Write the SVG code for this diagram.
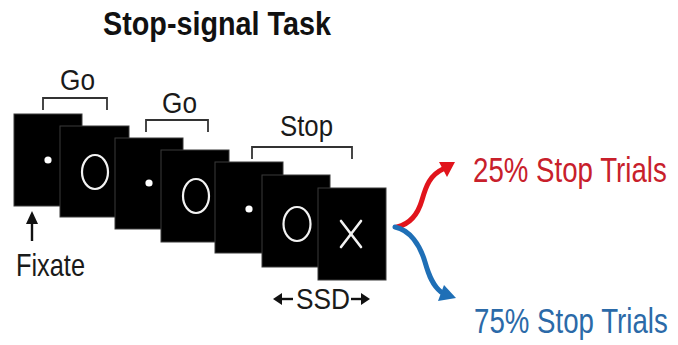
<svg xmlns="http://www.w3.org/2000/svg" width="678" height="345" viewBox="0 0 678 345">
  <style>
    text { font-family: "Liberation Sans Narrow", "Liberation Sans", Arial, sans-serif; }
    .lbl { font-size: 29px; fill: #1a1a1a; }
    .title { font-size: 34px; font-weight: bold; fill: #111; }
    .screen { fill: #000; stroke: #3a3a3a; stroke-width: 1; }
    .dot { fill: #fff; }
    .ring { fill: none; stroke: #f2f2f2; stroke-width: 2.2; }
    .cross { stroke: #f2f2f2; stroke-width: 2.6; stroke-linecap: round; }
    .bracket { fill: none; stroke: #333; stroke-width: 1.8; }
    .red { fill: #c8202b; font-size: 36px; }
    .blue { fill: #2b6aa8; font-size: 36px; }
  </style>
  <rect width="678" height="345" fill="#fff"/>

  <text class="title" x="103" y="35" textLength="228" lengthAdjust="spacingAndGlyphs">Stop-signal Task</text>

  <!-- trial phase brackets -->
  <g id="go1">
    <text class="lbl" x="60" y="90" textLength="35" lengthAdjust="spacingAndGlyphs">Go</text>
    <path class="bracket" d="M43,110 V98 H107 V110"/>
  </g>
  <g id="go2">
    <text class="lbl" x="162" y="113" textLength="35" lengthAdjust="spacingAndGlyphs">Go</text>
    <path class="bracket" d="M146,132 V120 H208 V132"/>
  </g>
  <g id="stop">
    <text class="lbl" x="280" y="136" textLength="53" lengthAdjust="spacingAndGlyphs">Stop</text>
    <path class="bracket" d="M252,159 V147 H352 V159"/>
  </g>

  <!-- stimulus screens, later ones drawn on top -->
  <g id="screen1">
    <rect class="screen" x="14" y="114" width="68" height="92"/>
    <circle class="dot" cx="48" cy="160" r="3.6"/>
  </g>
  <g id="screen2">
    <rect class="screen" x="60" y="126" width="69" height="91"/>
    <ellipse class="ring" cx="95" cy="172" rx="13" ry="17"/>
  </g>
  <g id="screen3">
    <rect class="screen" x="115" y="138" width="68" height="91"/>
    <circle class="dot" cx="149" cy="183" r="3.6"/>
  </g>
  <g id="screen4">
    <rect class="screen" x="161" y="150" width="68" height="92"/>
    <ellipse class="ring" cx="196" cy="196" rx="13" ry="17"/>
  </g>
  <g id="screen5">
    <rect class="screen" x="215" y="162" width="68" height="91"/>
    <circle class="dot" cx="249" cy="209" r="3.6"/>
  </g>
  <g id="screen6">
    <rect class="screen" x="262" y="175" width="68" height="92"/>
    <ellipse class="ring" cx="297" cy="224" rx="13.5" ry="17"/>
  </g>
  <g id="screen7">
    <rect class="screen" x="318" y="188" width="68" height="92"/>
    <line class="cross" x1="341" y1="221" x2="361" y2="247"/>
    <line class="cross" x1="361" y1="221" x2="341" y2="247"/>
  </g>

  <g id="fixate">
    <text class="lbl" x="16" y="276" style="font-size:32px" textLength="69" lengthAdjust="spacingAndGlyphs">Fixate</text>
  </g>

  <!-- stop-signal delay span -->
  <g id="ssd">
    <text class="lbl" x="296" y="309" textLength="54" lengthAdjust="spacingAndGlyphs">SSD</text>
    <line x1="280" y1="299" x2="293" y2="299" stroke="#111" stroke-width="2.4"/>
    <polygon points="273,299 282,293 282,305" fill="#111"/>
    <line x1="351" y1="299" x2="363" y2="299" stroke="#111" stroke-width="2.4"/>
    <polygon points="370,299 361,293 361,305" fill="#111"/>
  </g>

  <!-- outcome labels, horizontally condensed -->
  <g id="outcome-stop" transform="translate(473,182) scale(0.76,1)">
    <text class="red" x="0" y="0" textLength="255" lengthAdjust="spacingAndGlyphs">25% Stop Trials</text>
  </g>
  <g id="outcome-go" transform="translate(474,333) scale(0.76,1)">
    <text class="blue" x="0" y="0" textLength="255" lengthAdjust="spacingAndGlyphs">75% Stop Trials</text>
  </g>

  <!-- connectors -->
  <g id="connectors">
    <line x1="32" y1="241" x2="32" y2="222" stroke="#111" stroke-width="2.4"/>
    <polygon points="32,211 26,224 38,224" fill="#111"/>

    <path d="M397,227 C410,224 418,214 422,200 C426,186 430,175 443,169" fill="none" stroke="#e1141c" stroke-width="5" stroke-linecap="round"/>
    <polygon points="455,162 439,162 447,177" fill="#e1141c"/>

    <path d="M395,227 C410,230 420,245 425,262 C429,276 433,286 441,292" fill="none" stroke="#1f6fb6" stroke-width="5" stroke-linecap="round"/>
    <polygon points="456,298 438,301 444,285" fill="#1f6fb6"/>
  </g>
</svg>
